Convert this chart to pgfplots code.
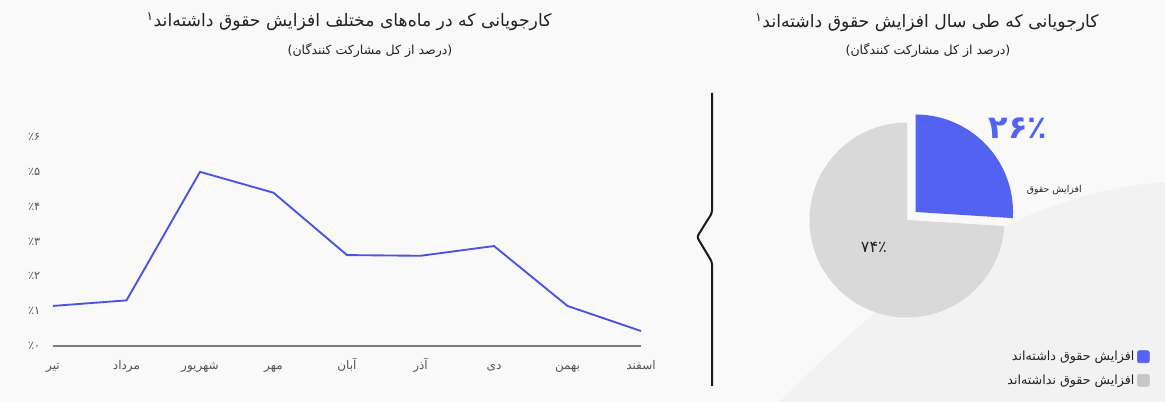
\documentclass[border=0pt]{standalone}
\usepackage{fontspec}
\usepackage{pgfplots}
\usepackage{pgfplotstable}
\pgfplotsset{compat=1.18}
\TeXXeTstate=1
\newfontfamily\fa[Script=Arabic]{DejaVu Sans}

\definecolor{bg}{HTML}{F9F9FA}
\definecolor{bgtwo}{HTML}{F2F2F3}
\definecolor{linecol}{HTML}{4A54E1}
\definecolor{pieblue}{HTML}{5462F2}
\definecolor{piegray}{HTML}{D9D9D9}
\definecolor{leggray}{HTML}{C6C6C6}
\definecolor{axgray}{HTML}{7A7A7A}
\definecolor{txt}{HTML}{222222}
\definecolor{ticktxt}{HTML}{555555}

% share of job seekers with a raise, by month (percent)
\pgfplotstableread{
x value
0 1.15
1 1.31
2 5.00
3 4.40
4 2.61
5 2.59
6 2.87
7 1.15
8 0.43
}\monthly

% whole year split (percent)
\pgfplotstableread{
part value
raised 26
notraised 74
}\piedata

\pgfplotsset{
  sq legend/.style={legend image code/.code={
      \fill[##1, rounded corners=1.5pt] (0pt,-4.5pt) rectangle (9pt,4.5pt);}},
}

\begin{document}
\begin{tikzpicture}[x=0.75pt, y=-0.75pt]
\pgfplotstablegetelem{0}{value}\of\piedata
\pgfmathsetmacro{\sweep}{3.6*\pgfplotsretval}
\pgfmathsetmacro{\pend}{90-\sweep}
\pgfmathsetmacro{\pmid}{90-\sweep/2}
\pgfmathsetmacro{\ex}{0.12*cos(\pmid)}
\pgfmathsetmacro{\ey}{0.12*sin(\pmid)}
\pgfmathsetmacro{\ux}{cos(\pend)}
\pgfmathsetmacro{\uy}{sin(\pend)}
% background
\fill[bg] (0,0) rectangle (1165,402);
\fill[bgtwo] (780,402) .. controls (880,300) and (1000,195) .. (1165,182) -- (1165,402) -- cycle;
\coordinate (lineorig) at (53,346);
\coordinate (piecenter) at (907,220);

% titles
\node[font=\fa\fontsize{12.9}{15}\selectfont, text=txt] at (349,22)
  {\beginR کارجویانی که در ماه‌های مختلف افزایش حقوق داشته‌اند\textsuperscript{۱}\endR};
\node[font=\fa\fontsize{9.4}{11}\selectfont, text=txt] at (370,50)
  {\beginR (درصد از کل مشارکت کنندگان)\endR};
\node[font=\fa\fontsize{12.9}{15}\selectfont, text=txt] at (927,23)
  {\beginR کارجویانی که طی سال افزایش حقوق داشته‌اند\textsuperscript{۱}\endR};
\node[font=\fa\fontsize{9.4}{11}\selectfont, text=txt] at (928,50)
  {\beginR (درصد از کل مشارکت کنندگان)\endR};

% separator
\draw[line width=1.5pt, black!90, rounded corners=2pt]
  (712,93) -- (712,213) -- (697,237) -- (712,262) -- (712,386);

% line chart
\begin{axis}[
  at={(lineorig)}, anchor=south west,
  scale only axis, width=441pt, height=156.75pt,
  xmin=0, xmax=8, ymin=0, ymax=6,
  axis lines*=left,
  axis line style={-},
  x axis line style={axgray, line width=1.5pt},
  y axis line style={draw=none},
  xtick={0,...,8},
  xticklabels={\beginR تیر\endR, \beginR مرداد\endR, \beginR شهریور\endR,
    \beginR مهر\endR, \beginR آبان\endR, \beginR آذر\endR, \beginR دی\endR,
    \beginR بهمن\endR, \beginR اسفند\endR},
  ytick={0,...,6},
  yticklabels={\beginR ٪۰\endR, \beginR ٪۱\endR, \beginR ٪۲\endR, \beginR ٪۳\endR,
    \beginR ٪۴\endR, \beginR ٪۵\endR, \beginR ٪۶\endR},
  major tick length=0pt,
  xticklabel style={font=\fa\fontsize{9}{11}\selectfont, text=ticktxt,
    anchor=base, yshift=-18pt},
  yticklabel style={font=\fa\fontsize{8.5}{10}\selectfont, text=ticktxt, xshift=-6pt},
  clip=false,
]
\addplot[linecol, line width=1.4pt, mark=none] table[x=x, y=value] {\monthly};
\end{axis}

% pie chart
\begin{axis}[
  at={(piecenter)}, anchor=center,
  x=73.125pt, y=73.125pt,
  xmin=-1.2, xmax=1.2, ymin=-1.2, ymax=1.2,
  hide axis, clip=false,
  legend style={draw=none, fill=none, at={(1.538,-0.047)}, anchor=north east,
    legend cell align=right, row sep=5pt, inner sep=0pt,
    font=\fa\fontsize{9.5}{11}\selectfont, text=txt},
  legend plot pos=right,
]
\fill[piegray] (axis cs:0,0) -- (axis cs:\ux,\uy)
  arc[start angle=\pend, end angle=-270, radius=73.125pt] -- cycle;
\fill[pieblue] (axis cs:\ex,\ey) -- (axis cs:\ex,{\ey+1})
  arc[start angle=90, end angle=\pend, radius=73.125pt] -- cycle;
\node[font=\fa\bfseries\fontsize{24}{26}\selectfont, text=pieblue] at (axis cs:1.14,0.94) {۲۶٪};
\node[font=\fa\fontsize{7}{8}\selectfont, text=txt] at (axis cs:1.51,0.31) {\beginR افزایش حقوق\endR};
\node[font=\fa\fontsize{12}{14}\selectfont, text=txt] at (axis cs:-0.34,-0.28) {۷۴٪};
\addlegendimage{sq legend, pieblue}
\addlegendentry{\beginR افزایش حقوق داشته‌اند\endR}
\addlegendimage{sq legend, leggray}
\addlegendentry{\beginR افزایش حقوق نداشته‌اند\endR}
\end{axis}
\end{tikzpicture}
\end{document}
